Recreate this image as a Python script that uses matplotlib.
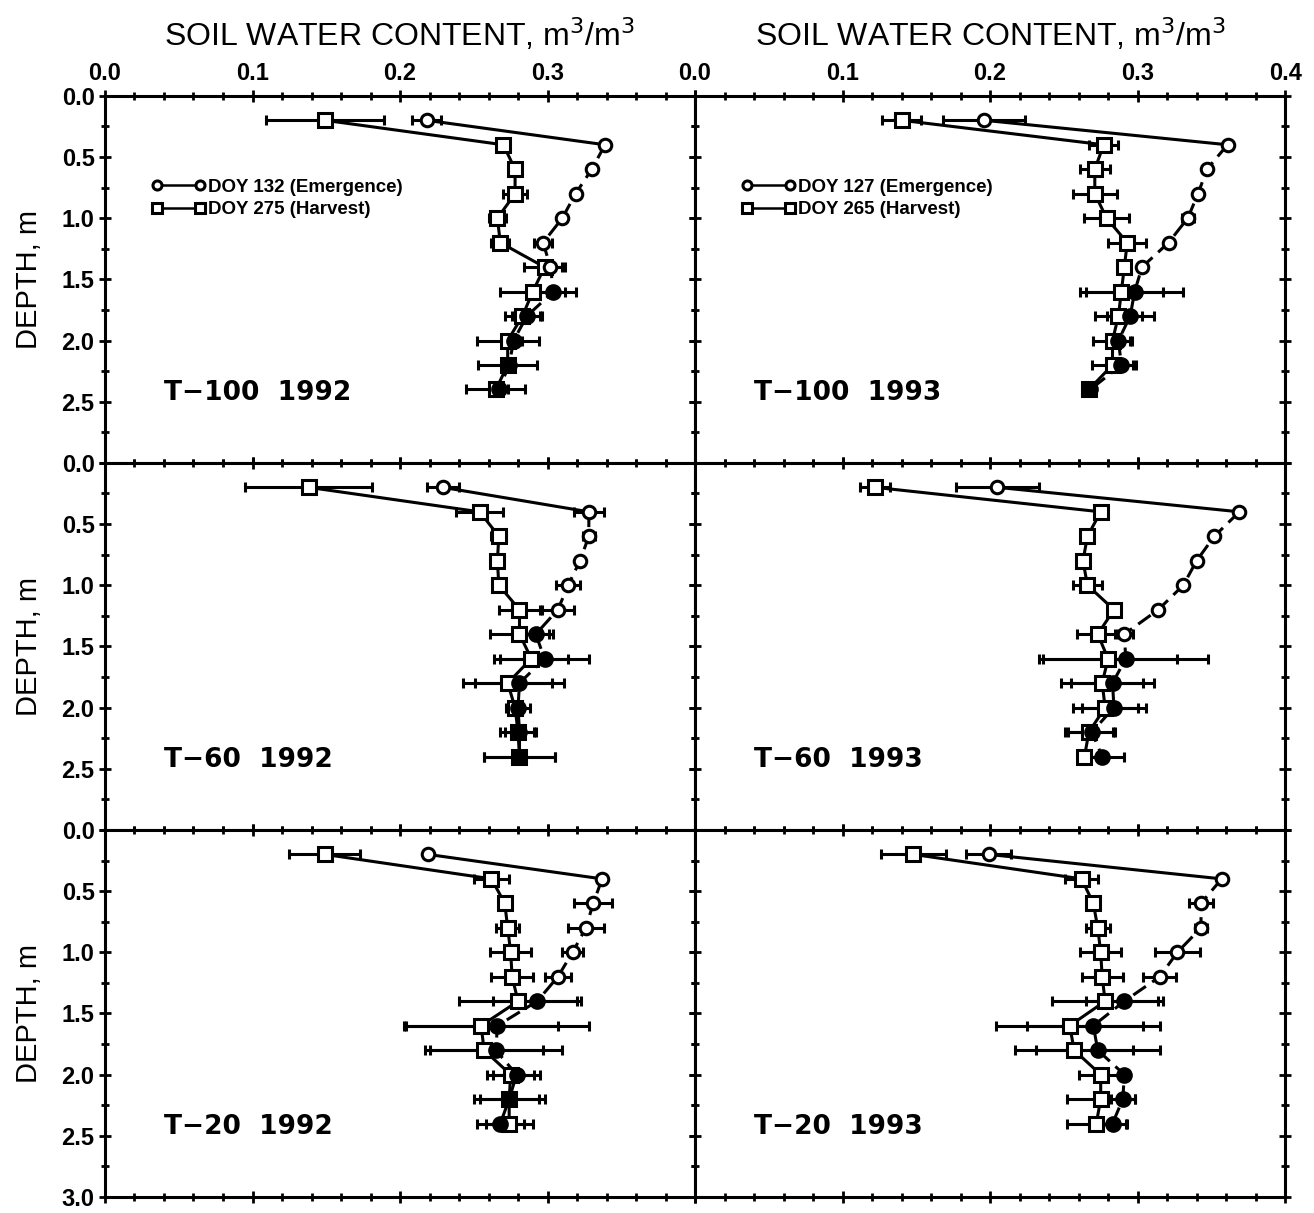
"""Soil water content profiles, emergence vs harvest, three transects x two years."""
import matplotlib
matplotlib.use("Agg")
import matplotlib.pyplot as plt
import numpy as np
from matplotlib.ticker import MultipleLocator

plt.rcParams["font.family"] = ["Liberation Sans", "DejaVu Sans"]

depth = [0.2, 0.4, 0.6, 0.8, 1.0, 1.2, 1.4, 1.6, 1.8, 2.0, 2.2, 2.4]

panel_names = ["T\u2212100  1992", "T\u2212100  1993",
               "T\u221260  1992", "T\u221260  1993",
               "T\u221220  1992", "T\u221220  1993"]
legend_labels = [("DOY 132 (Emergence)", "DOY 275 (Harvest)"),
                 ("DOY 127 (Emergence)", "DOY 265 (Harvest)")]

# emergence (circles) and harvest (squares), one list per panel
emerg = [
    [0.218, 0.339, 0.330, 0.319, 0.310, 0.297, 0.302, 0.304, 0.286, 0.277, 0.274, 0.267],
    [0.196, 0.361, 0.347, 0.341, 0.334, 0.321, 0.303, 0.298, 0.295, 0.287, 0.289, 0.268],
    [0.229, 0.328, 0.328, 0.322, 0.314, 0.307, 0.292, 0.298, 0.281, 0.280, 0.281, 0.281],
    [0.205, 0.369, 0.352, 0.340, 0.331, 0.314, 0.291, 0.292, 0.283, 0.284, 0.269, 0.276],
    [0.219, 0.337, 0.331, 0.326, 0.317, 0.307, 0.293, 0.266, 0.265, 0.279, 0.274, 0.268],
    [0.199, 0.357, 0.343, 0.343, 0.327, 0.315, 0.291, 0.270, 0.273, 0.291, 0.290, 0.283],
]
emerg_err = [
    [0.010, 0.000, 0.000, 0.000, 0.000, 0.006, 0.008, 0.015, 0.010, 0.006, 0.000, 0.006],
    [0.028, 0.000, 0.000, 0.000, 0.004, 0.000, 0.000, 0.033, 0.016, 0.008, 0.010, 0.000],
    [0.011, 0.010, 0.004, 0.000, 0.008, 0.011, 0.012, 0.030, 0.030, 0.008, 0.010, 0.024],
    [0.028, 0.000, 0.000, 0.000, 0.000, 0.000, 0.006, 0.056, 0.028, 0.022, 0.016, 0.015],
    [0.000, 0.000, 0.013, 0.012, 0.007, 0.009, 0.030, 0.062, 0.045, 0.016, 0.024, 0.016],
    [0.015, 0.000, 0.008, 0.004, 0.015, 0.011, 0.026, 0.045, 0.042, 0.000, 0.008, 0.010],
]
harv = [
    [0.149, 0.270, 0.278, 0.278, 0.266, 0.268, 0.298, 0.290, 0.283, 0.273, 0.273, 0.265],
    [0.140, 0.277, 0.271, 0.271, 0.279, 0.293, 0.291, 0.289, 0.287, 0.283, 0.283, 0.267],
    [0.138, 0.254, 0.267, 0.266, 0.267, 0.281, 0.281, 0.289, 0.273, 0.278, 0.280, 0.281],
    [0.122, 0.275, 0.266, 0.263, 0.266, 0.284, 0.273, 0.280, 0.276, 0.278, 0.267, 0.264],
    [0.149, 0.262, 0.271, 0.273, 0.275, 0.276, 0.280, 0.255, 0.257, 0.275, 0.274, 0.274],
    [0.148, 0.262, 0.270, 0.273, 0.275, 0.276, 0.278, 0.254, 0.257, 0.275, 0.275, 0.272],
]
harv_err = [
    [0.040, 0.000, 0.004, 0.008, 0.006, 0.006, 0.014, 0.022, 0.012, 0.021, 0.020, 0.020],
    [0.013, 0.010, 0.010, 0.015, 0.015, 0.013, 0.000, 0.028, 0.016, 0.013, 0.014, 0.000],
    [0.043, 0.016, 0.005, 0.000, 0.004, 0.014, 0.020, 0.025, 0.030, 0.000, 0.012, 0.024],
    [0.010, 0.000, 0.000, 0.000, 0.010, 0.000, 0.014, 0.047, 0.028, 0.022, 0.016, 0.000],
    [0.024, 0.012, 0.000, 0.008, 0.014, 0.014, 0.040, 0.052, 0.040, 0.016, 0.020, 0.016],
    [0.022, 0.011, 0.000, 0.008, 0.014, 0.014, 0.036, 0.050, 0.040, 0.015, 0.023, 0.020],
]
# index of first filled (solid) emergence circle in each panel
filled_from = [7, 7, 6, 7, 6, 6]

fig, axes = plt.subplots(3, 2, figsize=(13.14, 12.13), dpi=100)
fig.subplots_adjust(left=0.0799, right=0.978, top=0.921, bottom=0.0132, hspace=0, wspace=0)

for k, ax in enumerate(axes.flat):
    row, col = divmod(k, 2)
    d = np.array(depth)
    e = np.array(emerg[k]); h = np.array(harv[k])
    f = filled_from[k]

    ax.errorbar(h, d, xerr=harv_err[k], fmt="none", ecolor="black", elinewidth=2.2,
                capsize=3.5, capthick=2.2, zorder=2)
    ax.errorbar(e, d, xerr=emerg_err[k], fmt="none", ecolor="black", elinewidth=2.2,
                capsize=3.5, capthick=2.2, zorder=2)
    # harvest profile
    ax.plot(h, d, "-", color="black", lw=2.2, zorder=3)
    ax.plot(h, d, "s", ms=10, mfc="white", mec="black", mew=2.2, zorder=4)
    # emergence profile: solid top segment, dashed below
    ax.plot(e[:2], d[:2], "-", color="black", lw=2.2, zorder=3)
    ax.plot(e[1:], d[1:], "--", color="black", lw=2.2, dashes=(5, 2.5), zorder=3)
    ax.plot(e[:f], d[:f], "o", ms=9, mfc="white", mec="black", mew=2.2, zorder=5)
    ax.plot(e[f:], d[f:], "o", ms=10.5, mfc="black", mec="black", mew=1.5, zorder=5)

    ax.set_xlim(0, 0.4)
    ax.set_ylim(3.0, 0.0)
    ax.xaxis.set_major_locator(MultipleLocator(0.1))
    ax.xaxis.set_minor_locator(MultipleLocator(0.02))
    ax.yaxis.set_major_locator(MultipleLocator(0.5))
    ax.yaxis.set_minor_locator(MultipleLocator(0.25))
    ax.tick_params(which="both", direction="inout", top=True, bottom=True, left=True, right=True,
                   width=2)
    ax.tick_params(which="major", length=9)
    ax.tick_params(which="minor", length=6)
    ax.tick_params(labelbottom=False, labeltop=(row == 0), labelleft=(col == 0), labelright=False,
                   labelsize=17, pad=3)
    for s in ax.spines.values():
        s.set_linewidth(2.2)

    if row == 0:
        xt = np.arange(0, 0.41, 0.1)
        ax.set_xticks(xt)
        ax.set_xticklabels([f"{v:.1f}" if (col == 1 or v < 0.35) else "" for v in xt],
                           fontweight="bold")
        ax.set_title("SOIL WATER CONTENT, m$^3$/m$^3$", fontsize=23, pad=36)
    if col == 0:
        yt = np.arange(0, 3.01, 0.5)
        ax.set_yticks(yt)
        ax.set_yticklabels([f"{v:.1f}" if (row == 2 or v < 2.9) else "" for v in yt],
                           fontweight="bold")
        ax.set_ylabel("DEPTH, m", fontsize=21)
        ax.yaxis.set_label_coords(-0.105, 0.5)

    ax.text(0.04, 2.43, panel_names[k], fontsize=19, fontweight="bold",
            family="DejaVu Sans", ha="left", va="center")

    if row == 0:
        em_lab, hv_lab = legend_labels[col]
        lo, = ax.plot([], [], "-o", color="black", lw=1.8, ms=6.5, mfc="white", mew=2.2)
        ls, = ax.plot([], [], "-s", color="black", lw=1.8, ms=7.5, mfc="white", mew=2.2)
        ax.legend([lo, ls], [em_lab, hv_lab], loc="upper left", bbox_to_anchor=(0.078, 0.775),
                  frameon=False, numpoints=2, handlelength=2.9, handletextpad=0.15,
                  labelspacing=0.3, borderaxespad=0, borderpad=0,
                  prop={"weight": "bold", "size": 13.5})

fig.savefig("out.png", dpi=100)
plt.close()
